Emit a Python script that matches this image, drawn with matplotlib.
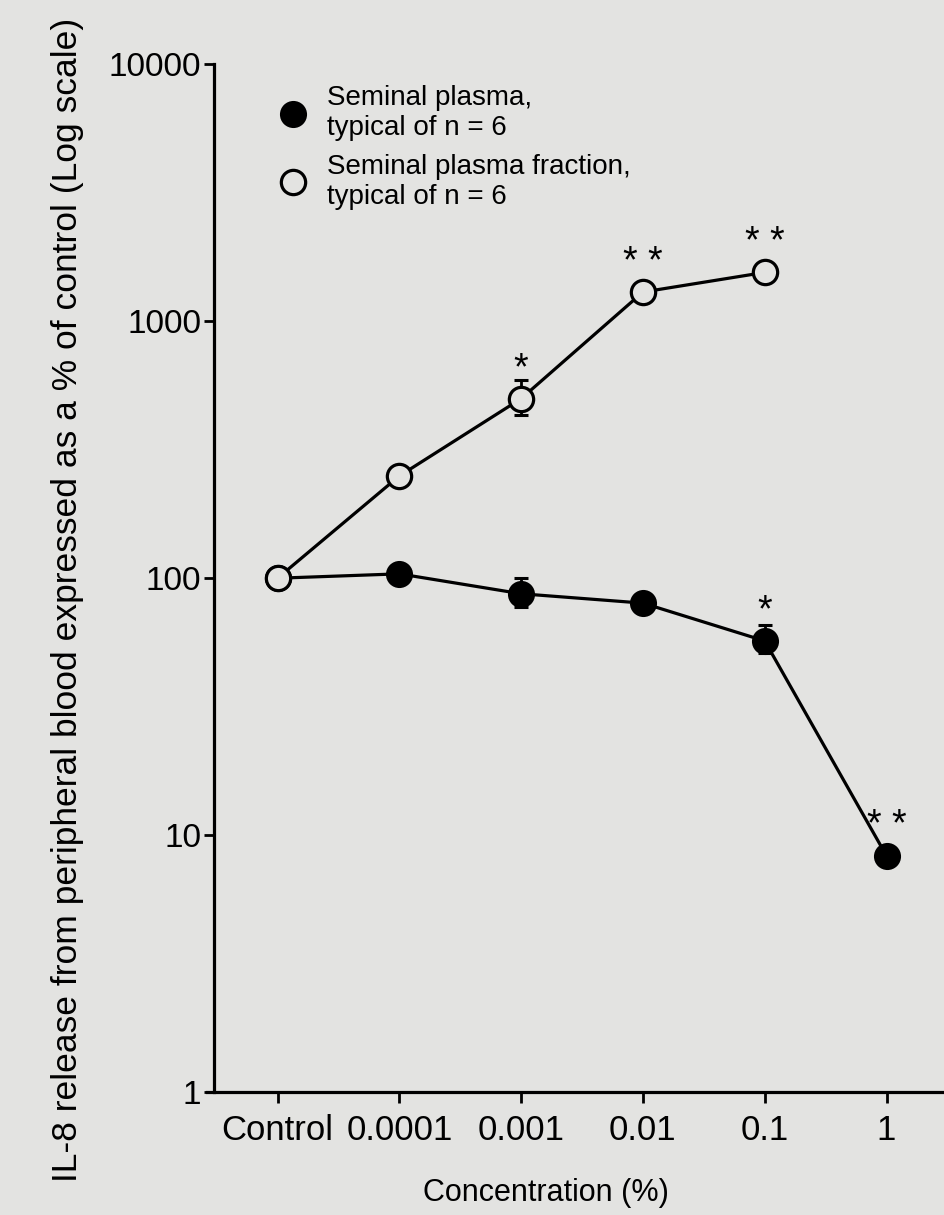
import numpy as np
import matplotlib
matplotlib.use('Agg')
import matplotlib.pyplot as plt
from matplotlib.lines import Line2D

# data
conc_labels = ['Control', '0.0001', '0.001', '0.01', '0.1', '1']
plasma = [100, 104, 87, 80, 57, 8.3]
plasma_err_lo = [0, 0, 10, 0, 6, 0]
plasma_err_hi = [0, 0, 13, 0, 9, 0]
plasma_stars = ['', '', '', '', '*', '* *']
fraction = [100, 250, 500, 1300, 1550]
fraction_err_lo = [0, 0, 70, 0, 0]
fraction_err_hi = [0, 0, 90, 0, 0]
fraction_stars = ['', '', '*', '* *', '* *']

bg = '#e3e3e1'
plt.rcParams['font.family'] = ['Liberation Sans', 'DejaVu Sans']

fig = plt.figure(figsize=(9.45, 12.15), dpi=100, facecolor=bg)
ax = fig.add_axes([0.2260, 0.1012, 0.7740, 0.8458])
ax.set_facecolor(bg)

x_pl = np.arange(len(plasma))
x_fr = np.arange(len(fraction))

# error bars first (behind markers)
ax.errorbar(x_pl, plasma, yerr=[plasma_err_lo, plasma_err_hi], fmt='none',
            ecolor='black', elinewidth=2, capsize=5, capthick=2.2, zorder=2)
ax.errorbar(x_fr, fraction, yerr=[fraction_err_lo, fraction_err_hi], fmt='none',
            ecolor='black', elinewidth=2, capsize=5, capthick=2.2, zorder=2)

ax.plot(x_pl, plasma, color='black', lw=2.3, marker='o', ms=17.5,
        mfc='black', mec='black', mew=2, zorder=3)
ax.plot(x_fr, fraction, color='black', lw=2.3, marker='o', ms=17.5,
        mfc=bg, mec='black', mew=2.3, zorder=4)

# significance stars
for xs, ys, stars in [(x_pl, plasma, plasma_stars), (x_fr, fraction, fraction_stars)]:
    for xi, yi, s in zip(xs, ys, stars):
        if s:
            ax.annotate(s, (xi, yi), xytext=(0, 14), textcoords='offset points',
                        ha='center', va='baseline', fontsize=27)

ax.set_yscale('log')
ax.set_ylim(1, 10000)
ax.set_xlim(-0.525, 5.48)
ax.set_yticks([1, 10, 100, 1000, 10000])
ax.set_yticklabels(['1', '10', '100', '1000', '10000'])
ax.yaxis.set_minor_locator(matplotlib.ticker.NullLocator())
ax.set_xticks(np.arange(len(conc_labels)))
ax.set_xticklabels(conc_labels)

ax.spines['top'].set_visible(False)
ax.spines['right'].set_visible(False)
ax.spines['left'].set_linewidth(2.3)
ax.spines['bottom'].set_linewidth(2.3)
ax.spines['bottom'].set_bounds(-0.58, 5.48)

ax.tick_params(axis='y', direction='out', length=7, width=2, labelsize=24, pad=2)
ax.tick_params(axis='x', direction='out', length=8, width=2, labelsize=25, pad=8)

ax.set_xlabel('Concentration (%)', fontsize=22)
ax.xaxis.set_label_coords(0.454, -0.084)
ax.set_ylabel('IL-8 release from peripheral blood expressed as a % of control (Log scale)',
              fontsize=25.5)
ax.yaxis.set_label_coords(-0.177, 0.479)

handles = [
    Line2D([], [], ls='none', marker='o', ms=17.5, mfc='black', mec='black', mew=2),
    Line2D([], [], ls='none', marker='o', ms=17.5, mfc=bg, mec='black', mew=2.3),
]
ax.legend(handles, ['Seminal plasma,\ntypical of n = 6',
                    'Seminal plasma fraction,\ntypical of n = 6'],
          loc='upper left', bbox_to_anchor=(0.052, 1.004), frameon=False,
          fontsize=20, handletextpad=0.6, labelspacing=0.46, handlelength=1.2)

fig.savefig('out.png', dpi=100, facecolor=bg)
